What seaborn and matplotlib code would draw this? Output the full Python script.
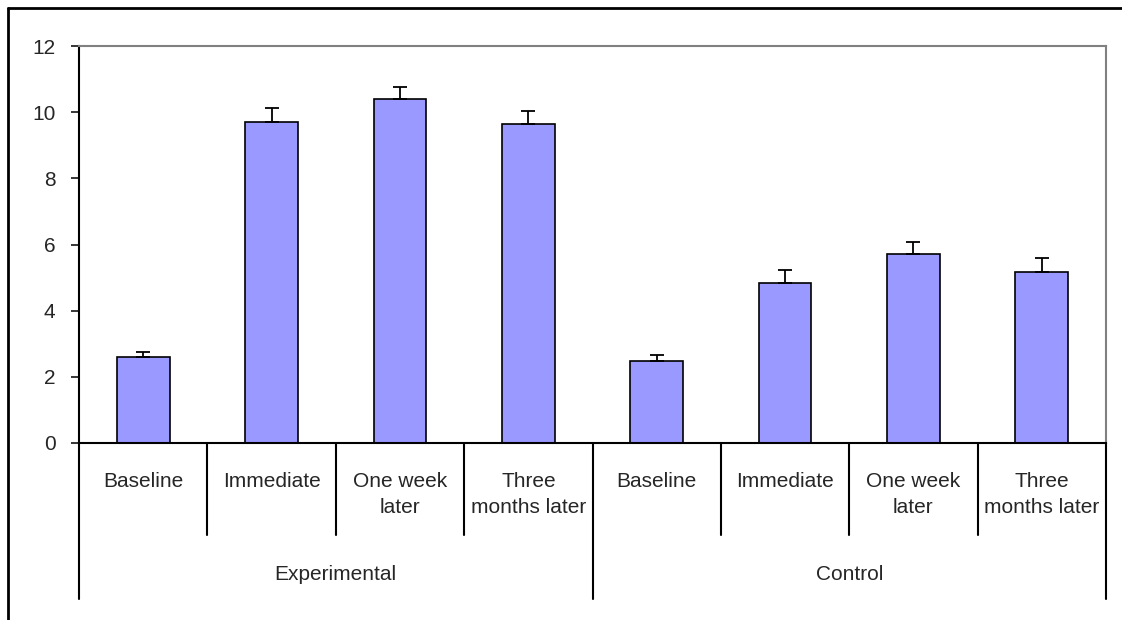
import numpy as np
import pandas as pd
import matplotlib
matplotlib.use("Agg")
import matplotlib.pyplot as plt
import matplotlib.transforms as mtransforms
from matplotlib.lines import Line2D
import seaborn as sns

groups = ["Experimental", "Control"]
times = ["Baseline", "Immediate", "One week\nlater", "Three\nmonths later"]
exp_means = [2.59, 9.71, 10.39, 9.65]
exp_err = [0.17, 0.42, 0.36, 0.38]
ctl_means = [2.48, 4.83, 5.72, 5.18]
ctl_err = [0.17, 0.40, 0.37, 0.42]

df = pd.DataFrame({
    "group": np.repeat(groups, len(times)),
    "time": times * 2,
    "mean": exp_means + ctl_means,
    "err": exp_err + ctl_err,
})
df["key"] = df["group"] + "|" + df["time"]

sns.set_style("white")
plt.rcParams["font.family"] = ["Liberation Sans", "DejaVu Sans"]

fig = plt.figure(figsize=(11.22, 6.2), dpi=100)
ax = fig.add_axes([79 / 1122, 1 - 443 / 620, (1106 - 79) / 1122, (443 - 46) / 620])

sns.barplot(data=df, x="key", y="mean", order=list(df["key"]), color="#9999FF",
            saturation=1, edgecolor="black", linewidth=1.2, width=0.41,
            errorbar=None, ax=ax)

# upper error bars only, at bar centres
xs = [p.get_x() + p.get_width() / 2 for p in ax.patches]
tops = [p.get_height() for p in ax.patches]
ax.errorbar(xs, tops, yerr=[np.zeros(len(df)), df["err"]], fmt="none",
            ecolor="black", elinewidth=1.3, capsize=5, capthick=1.3, zorder=3)

ax.set_ylim(0, 12)
ax.set_xlim(-0.5, len(df) - 0.5)
ax.set_yticks(range(0, 13, 2))
ax.tick_params(axis="y", direction="out", length=6, width=1.3, pad=11,
               labelsize=15, left=True)
ax.set_xticks([])
ax.set_xlabel("")
ax.set_ylabel("")
for side in ["left", "bottom"]:
    ax.spines[side].set_color("black")
    ax.spines[side].set_linewidth(1.5)
for side in ["top", "right"]:
    ax.spines[side].set_color("#808080")
    ax.spines[side].set_linewidth(1.5)

# two-level category axis
trans = mtransforms.blended_transform_factory(ax.transData, ax.transAxes)
n = len(times)
for i in range(len(df) + 1):
    bottom = -0.392 if i % n == 0 else -0.232
    ax.add_line(Line2D([i - 0.5, i - 0.5], [0, bottom], transform=trans,
                       color="black", lw=1.5, clip_on=False))
for i, t in enumerate(df["time"]):
    ax.text(i, -0.072, t, transform=trans, ha="center", va="top",
            fontsize=15, linespacing=1.5)
for g, name in enumerate(groups):
    ax.text(g * n + (n - 1) / 2, -0.332, name, transform=trans,
            ha="center", va="center", fontsize=15)

# outer chart frame (top and left visible)
fig.add_artist(Line2D([8 / 1122, 1], [1 - 8 / 620, 1 - 8 / 620],
                      transform=fig.transFigure, color="black", lw=2))
fig.add_artist(Line2D([8 / 1122, 8 / 1122], [0, 1 - 8 / 620],
                      transform=fig.transFigure, color="black", lw=2))

fig.savefig("out.png", dpi=100)
